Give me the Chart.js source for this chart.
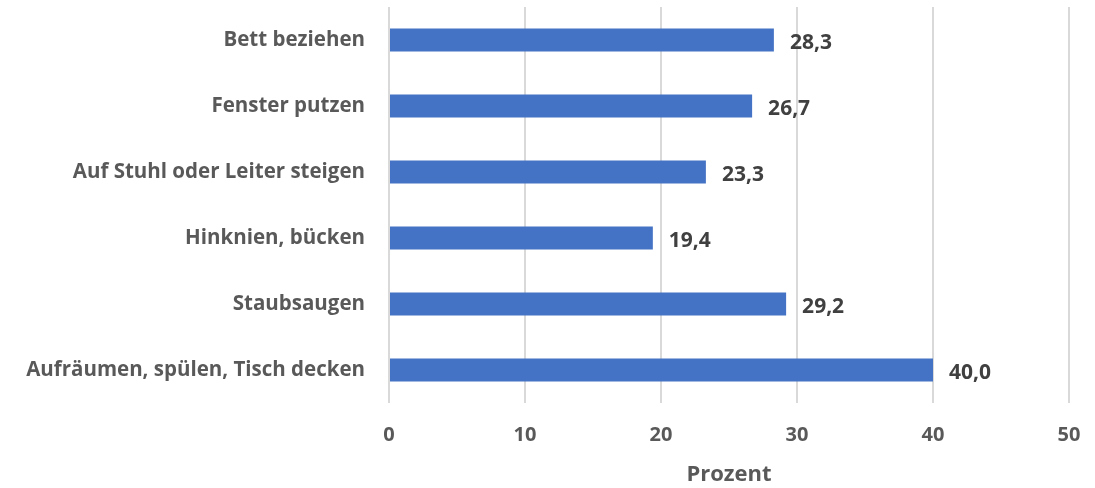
<!DOCTYPE html>
<html>
<head>
<meta charset="utf-8">
<script src="https://cdn.jsdelivr.net/npm/chart.js@4/dist/chart.umd.min.js"></script>
<style>
  html, body { margin: 0; padding: 0; background: #fff; }
  #wrap { width: 1095px; height: 488px; position: relative; }
</style>
</head>
<body>
<div id="wrap"><canvas id="myChart"></canvas></div>
<script>
// Daten
const categories = [
  'Bett beziehen',
  'Fenster putzen',
  'Auf Stuhl oder Leiter steigen',
  'Hinknien, bücken',
  'Staubsaugen',
  'Aufräumen, spülen, Tisch decken'
];
const values = [28.3, 26.7, 23.3, 19.4, 29.2, 40.0];
const xTicks = [0, 10, 20, 30, 40, 50];
const axisTitle = 'Prozent';

const fontFamily = '"Open Sans", "Noto Sans", sans-serif';

// Werte neben den Balken
const valueLabels = {
  id: 'valueLabels',
  afterDatasetsDraw(chart) {
    const c = chart.ctx;
    const meta = chart.getDatasetMeta(0);
    c.save();
    c.font = 'bold 21px ' + fontFamily;
    c.fillStyle = '#404040';
    c.textAlign = 'left';
    c.textBaseline = 'middle';
    meta.data.forEach((bar, i) => {
      let txt = values[i].toFixed(1).replace('.', ',');
      c.fillText(txt, bar.x + 16, bar.y + 3);
    });
    c.restore();
  }
};

let ctx = document.querySelector('#myChart');

let charter = new Chart(ctx, {
  type: 'bar',
  data: {
    labels: categories,
    datasets: [{
      data: values,
      backgroundColor: '#4472C4',
      borderWidth: 0,
      categoryPercentage: 1,
      barPercentage: 0.35
    }]
  },
  options: {
    indexAxis: 'y',
    responsive: true,
    maintainAspectRatio: false,
    animation: false,
    layout: { padding: { top: 7, right: 26, bottom: 0, left: 0 } },
    plugins: {
      legend: { display: false },
      tooltip: { enabled: false }
    },
    scales: {
      x: {
        min: 0,
        max: 50,
        afterBuildTicks: (scale) => { scale.ticks = xTicks.map(v => ({ value: v })); },
        afterFit: (scale) => {
          scale.height = 85;
          scale.paddingLeft = 0;
          scale.paddingRight = 0;
        },
        grid: { color: '#D9D9D9', lineWidth: 2, drawTicks: false },
        border: { display: false },
        ticks: {
          padding: 20,
          maxRotation: 0,
          minRotation: 0,
          color: '#595959',
          font: { family: fontFamily, size: 20, weight: 'bold' }
        },
        title: {
          display: true,
          text: axisTitle,
          color: '#595959',
          padding: { top: 4, bottom: 0 },
          font: { family: fontFamily, size: 22, weight: 'bold' }
        }
      },
      y: {
        grid: { display: false, drawTicks: false },
        border: { display: false },
        afterFit: (scale) => {
          scale.width = 389;
          scale.paddingTop = 0;
          scale.paddingBottom = 0;
        },
        ticks: {
          padding: 24,
          maxRotation: 0,
          minRotation: 0,
          color: '#595959',
          font: { family: fontFamily, size: 20.5, weight: 'bold' }
        }
      }
    }
  },
  plugins: [valueLabels]
});
</script>
</body>
</html>
